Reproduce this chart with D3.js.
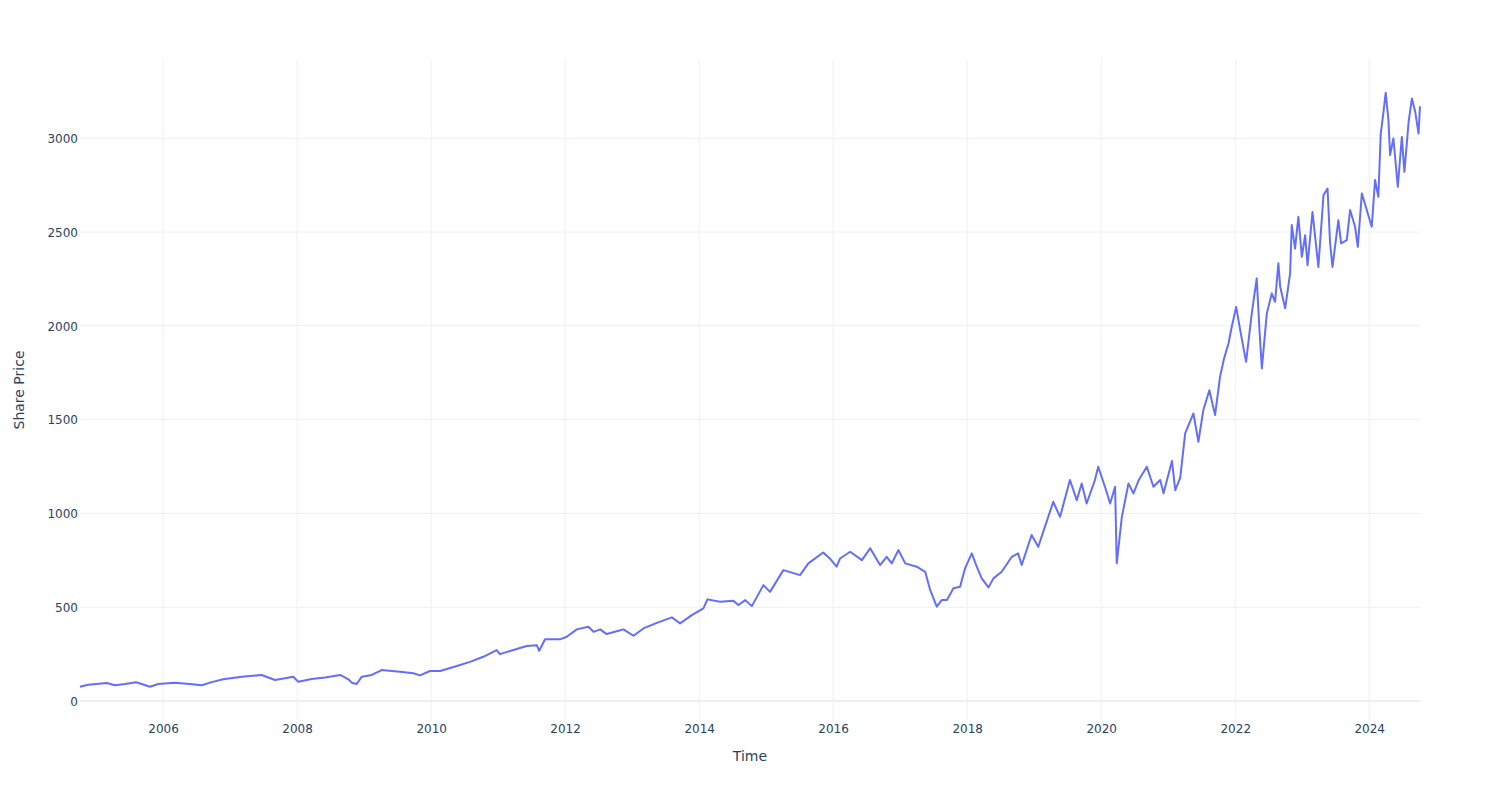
<!DOCTYPE html>
<html><head><meta charset="utf-8">
<script src="https://cdn.jsdelivr.net/npm/d3@7"></script>
<style>
body{margin:0;background:#fff;}
svg{display:block;font-family:"DejaVu Sans",verdana,arial,sans-serif;}
</style></head>
<body><svg id="chart" width="1500" height="800"></svg>
<script>
const dates = ["2004-10-05","2004-11-19","2005-02-28","2005-04-14","2005-06-08","2005-08-07","2005-10-22","2005-12-05","2006-03-06","2006-05-27","2006-07-30","2006-09-23","2006-11-24","2007-03-06","2007-06-22","2007-09-03","2007-10-27","2007-12-11","2008-01-08","2008-03-20","2008-06-02","2008-08-23","2008-10-07","2008-10-25","2008-11-21","2008-12-19","2009-02-12","2009-04-06","2009-07-15","2009-09-26","2009-11-01","2009-12-26","2010-02-19","2010-05-21","2010-08-01","2010-10-12","2010-12-24","2011-01-11","2011-03-25","2011-06-06","2011-07-31","2011-08-13","2011-09-14","2011-12-04","2012-01-10","2012-03-05","2012-05-07","2012-06-04","2012-07-10","2012-08-15","2012-10-18","2012-11-14","2013-01-08","2013-03-03","2013-05-15","2013-08-05","2013-09-19","2013-11-22","2014-01-24","2014-02-15","2014-04-25","2014-07-07","2014-08-03","2014-09-09","2014-10-15","2014-12-17","2015-01-22","2015-04-05","2015-07-05","2015-08-19","2015-11-08","2015-12-14","2016-01-20","2016-02-08","2016-04-03","2016-06-06","2016-07-21","2016-09-13","2016-10-19","2016-11-16","2016-12-22","2017-01-28","2017-04-01","2017-05-17","2017-06-13","2017-07-19","2017-08-15","2017-09-12","2017-10-18","2017-11-23","2017-12-20","2018-01-26","2018-02-22","2018-03-21","2018-04-27","2018-05-24","2018-07-08","2018-09-01","2018-10-05","2018-10-25","2018-12-18","2019-01-23","2019-04-15","2019-05-22","2019-07-15","2019-08-21","2019-09-17","2019-10-14","2019-11-28","2019-12-16","2020-01-22","2020-02-19","2020-03-17","2020-03-26","2020-04-23","2020-05-29","2020-06-25","2020-07-25","2020-09-06","2020-10-12","2020-11-18","2020-12-06","2021-01-21","2021-02-08","2021-03-07","2021-04-03","2021-05-18","2021-06-14","2021-07-11","2021-08-13","2021-09-13","2021-10-10","2021-11-01","2021-11-25","2021-12-13","2022-01-06","2022-01-28","2022-03-01","2022-04-01","2022-04-28","2022-05-13","2022-05-26","2022-06-22","2022-07-19","2022-08-06","2022-08-24","2022-09-03","2022-09-30","2022-10-27","2022-11-05","2022-11-23","2022-12-11","2022-12-30","2023-01-17","2023-01-30","2023-02-26","2023-03-30","2023-04-27","2023-05-19","2023-06-02","2023-06-15","2023-07-17","2023-08-01","2023-09-01","2023-09-19","2023-10-16","2023-10-31","2023-11-22","2023-12-22","2024-01-15","2024-02-02","2024-02-20","2024-03-04","2024-03-18","2024-03-31","2024-04-15","2024-04-24","2024-05-12","2024-06-05","2024-06-27","2024-07-11","2024-08-03","2024-08-21","2024-09-08","2024-09-26","2024-10-04"];
const prices = [76,87,96,84,91,100,76,91,98,91,84,101,116,130,139,112,121,130,103,117,126,139,116,98,91,130,139,165,156,148,137,160,160,187,209,236,272,250,272,293,298,268,329,329,343,382,396,369,382,357,375,382,348,387,417,446,414,458,494,542,529,534,512,538,506,618,582,698,671,734,792,760,716,760,796,751,814,725,769,734,805,734,716,689,592,503,538,538,601,609,707,787,716,654,606,654,689,769,787,725,885,822,1062,982,1178,1071,1160,1053,1178,1249,1142,1053,1142,734,982,1160,1107,1180,1249,1142,1178,1107,1280,1124,1190,1427,1533,1382,1551,1657,1524,1728,1826,1906,1995,2101,1977,1808,2066,2253,1977,1773,2066,2173,2128,2333,2208,2093,2279,2537,2412,2581,2368,2483,2323,2607,2314,2696,2732,2439,2314,2563,2439,2457,2617,2528,2421,2706,2607,2528,2777,2688,3025,3132,3242,3096,2910,2999,2741,3007,2821,3087,3212,3140,3025,3170];
const yTicks = [0,500,1000,1500,2000,2500,3000];
const xTickYears = [2006,2008,2010,2012,2014,2016,2018,2020,2022,2024];
const xTitle = "Time";
const yTitle = "Share Price";

const parse = d3.timeParse("%Y-%m-%d");
const data = dates.map((d,i)=>({t:parse(d), v:prices[i]}));

const M = {l:80, r:80, t:60, b:80};
const W = 1500, H = 800;
const FONT = '"DejaVu Sans",verdana,arial,sans-serif';
const svg = d3.select("#chart");
const x = d3.scaleTime().domain(d3.extent(data, d=>d.t)).range([M.l, W-M.r]);
const y = d3.scaleLinear().domain([-101, 3417]).range([H-M.b, M.t]);

const grid = "#EBF0F8", txt = "#2a3f5f";

const xTicks = xTickYears.map(yr=>new Date(yr,0,1));
svg.append("g").selectAll("line").data(xTicks).join("line")
  .attr("x1",d=>x(d)).attr("x2",d=>x(d)).attr("y1",M.t).attr("y2",H-M.b)
  .attr("stroke",grid).attr("stroke-width",1);
svg.append("g").selectAll("line").data(yTicks.filter(v=>v!==0)).join("line")
  .attr("x1",M.l).attr("x2",W-M.r).attr("y1",d=>y(d)).attr("y2",d=>y(d))
  .attr("stroke",grid).attr("stroke-width",1);
svg.append("line").attr("x1",M.l).attr("x2",W-M.r).attr("y1",y(0)).attr("y2",y(0))
  .attr("stroke",grid).attr("stroke-width",2);

const xAxis = d3.axisBottom(x).tickValues(xTicks).tickFormat(d3.timeFormat("%Y")).tickSize(0).tickPadding(0);
const gx = svg.append("g").attr("transform",`translate(0,${H-M.b})`).call(xAxis);
gx.select(".domain").remove();
gx.selectAll("text").attr("font-size",12).attr("fill",txt).attr("dy",null).attr("y",13)
  .attr("font-family",FONT);

const yAxis = d3.axisLeft(y).tickValues(yTicks).tickSize(0).tickPadding(0).tickFormat(d3.format("d"));
const gy = svg.append("g").attr("transform",`translate(${M.l-2},0)`).call(yAxis);
gy.select(".domain").remove();
gy.selectAll("text").attr("font-size",12).attr("fill",txt).attr("x",0).attr("dy","0.35em")
  .attr("font-family",FONT);

const line = d3.line().x(d=>x(d.t)).y(d=>y(d.v));
svg.append("path").datum(data).attr("d",line)
  .attr("fill","none").attr("stroke","#636efa").attr("stroke-width",2)
  .attr("stroke-linejoin","round");

svg.append("text").attr("x",(M.l+W-M.r)/2).attr("y",761).attr("text-anchor","middle")
  .attr("font-size",14).attr("fill",txt).attr("font-family",FONT).text(xTitle);
svg.append("text").attr("transform",`translate(24,${(M.t+H-M.b)/2}) rotate(-90)`)
  .attr("text-anchor","middle").attr("font-size",14).attr("fill",txt).attr("font-family",FONT).text(yTitle);
</script></body></html>
